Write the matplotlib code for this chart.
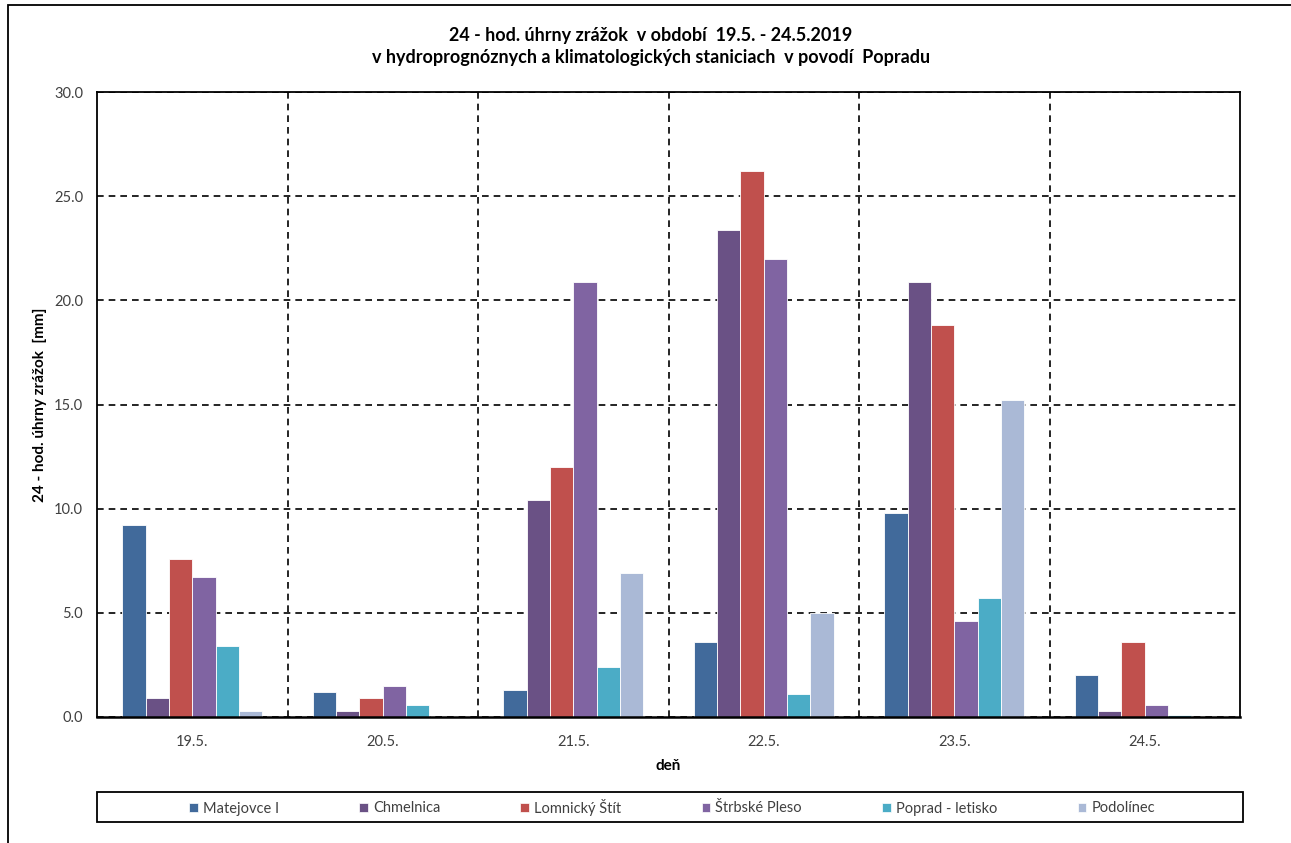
import matplotlib
matplotlib.use("Agg")
import matplotlib.pyplot as plt
from matplotlib.patches import Patch, Rectangle
import numpy as np

plt.rcParams['font.family'] = ['Lato', 'DejaVu Sans']

days = ["19.5.", "20.5.", "21.5.", "22.5.", "23.5.", "24.5."]
stations = ["Matejovce I", "Chmelnica", "Lomnický Štít", "Štrbské Pleso",
            "Poprad - letisko", "Podolínec"]
matejovce = [9.2, 1.2, 1.3, 3.6, 9.8, 2.0]
chmelnica = [0.9, 0.3, 10.4, 23.4, 20.9, 0.3]
lomnicky = [7.6, 0.9, 12.0, 26.2, 18.8, 3.6]
strbske = [6.7, 1.5, 20.9, 22.0, 4.6, 0.6]
poprad = [3.4, 0.6, 2.4, 1.1, 5.7, 0.1]
podolinec = [0.3, 0.0, 6.9, 5.0, 15.2, 0.0]
series = [matejovce, chmelnica, lomnicky, strbske, poprad, podolinec]
colors = ["#416A9B", "#6A5185", "#C0504D", "#8064A2", "#4BACC6", "#AAB9D6"]

W, H = 1291, 843
fig = plt.figure(figsize=(W / 100, H / 100), dpi=100)
ax = fig.add_axes([97 / W, 1 - 717 / H, (1240 - 97) / W, (717 - 92) / H])

x = np.arange(len(days))
bw = 0.1223
for i, (vals, col, name) in enumerate(zip(series, colors, stations)):
    ax.bar(x + (i - 2.5) * bw, vals, width=bw, color=col,
           edgecolor="white", linewidth=0.6, label=name, zorder=2)

ax.set_xlim(-0.5, len(days) - 0.5)
ax.set_ylim(0, 30)
ax.set_yticks(np.arange(0, 30.1, 5))
ax.set_yticklabels([f"{v:.1f}" for v in np.arange(0, 30.1, 5)])
ax.set_xticks(x)
ax.set_xticklabels(days)
ax.set_xticks(np.arange(0.5, len(days) - 0.5, 1), minor=True)

ax.set_axisbelow(True)
ax.grid(axis="y", which="major", color="black", linestyle=(0, (4, 3)), linewidth=1.2)
ax.grid(axis="x", which="minor", color="black", linestyle=(0, (4, 3)), linewidth=1.2)
ax.grid(axis="x", which="major", visible=False)

for s in ax.spines.values():
    s.set_color("black")
    s.set_linewidth(1.3)
    s.set_zorder(3)
ax.spines["bottom"].set_linewidth(1.8)

ax.tick_params(axis="both", which="both", length=0, labelsize=10.5, labelcolor="#404040")
ax.tick_params(axis="y", pad=10)
ax.tick_params(axis="x", pad=13)

ax.set_xlabel("deň", fontsize=11, fontweight="bold", labelpad=7)
ax.set_ylabel("24 - hod. úhrny zrážok  [mm]", fontsize=11, fontweight="bold", labelpad=5)

fig.text(651 / W, 1 - 35 / H, "24 - hod. úhrny zrážok  v období  19.5. - 24.5.2019",
         ha="center", va="center", fontsize=13, fontweight="bold")
fig.text(651 / W, 1 - 58 / H,
         "v hydroprognóznych a klimatologických staniciach  v povodí  Popradu",
         ha="center", va="center", fontsize=13, fontweight="bold")

# legend box
fig.patches.append(Rectangle((97 / W, 1 - 822 / H), (1243 - 97) / W, 30 / H,
                             transform=fig.transFigure, fill=False,
                             edgecolor="black", linewidth=1.3))
handles = [Patch(facecolor=c, edgecolor="white", linewidth=0.5) for c in colors]
fig.legend(handles, stations, loc="center", bbox_to_anchor=(672 / W, 1 - 807 / H),
           ncol=6, frameon=False, fontsize=10.5, handlelength=0.6, handleheight=0.6,
           handletextpad=0.35, columnspacing=5.5, labelcolor="#404040")

# outer chart border
fig.patches.append(Rectangle((8 / W, -0.1), 1.2, 1.1 - 5 / H,
                             transform=fig.transFigure, fill=False,
                             edgecolor="black", linewidth=1.3))

fig.savefig("out.png", dpi=100)
